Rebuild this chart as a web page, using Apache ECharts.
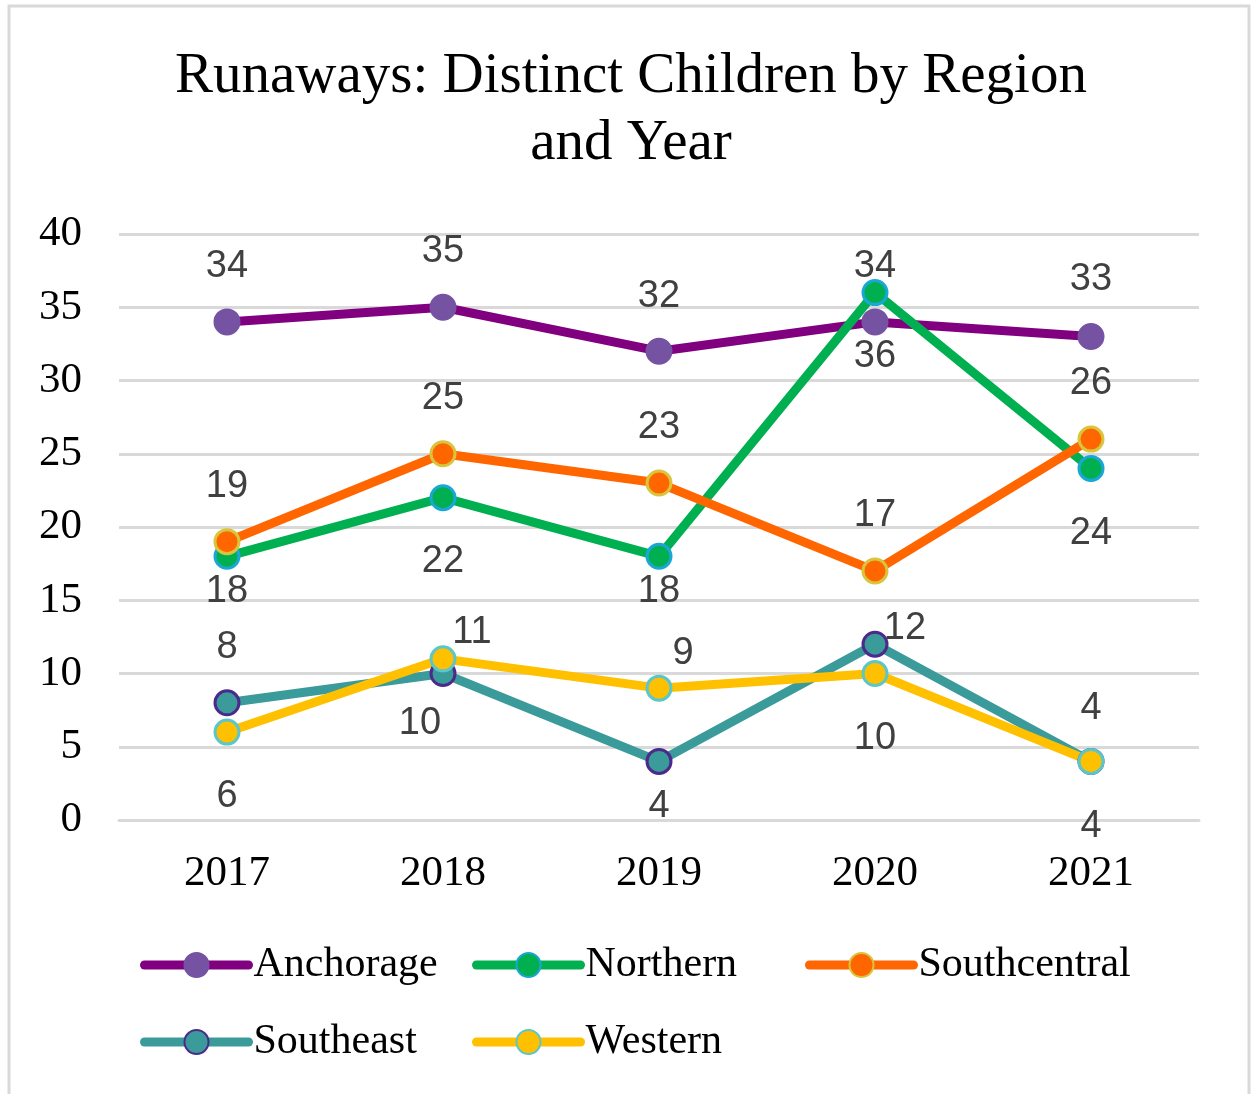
<!DOCTYPE html>
<html>
<head>
<meta charset="utf-8">
<script src="https://cdn.jsdelivr.net/npm/echarts@6/dist/echarts.min.js"></script>
<style>html,body{margin:0;padding:0;background:#fff;}#c{width:1251px;height:1094px;}</style>
</head>
<body>
<div id="c"></div>
<script>
var years = ['2017', '2018', '2019', '2020', '2021'];
var seriesNames = ['Anchorage', 'Northern', 'Southcentral', 'Southeast', 'Western'];
var anchorage = [34, 35, 32, 34, 33];
var northern = [18, 22, 18, 36, 24];
var southcentral = [19, 25, 23, 17, 26];
var southeast = [8, 10, 4, 12, 4];
var western = [6, 11, 9, 10, 4];
var yTicks = [0, 5, 10, 15, 20, 25, 30, 35, 40];
var titleText = 'Runaways: Distinct Children by Region\nand Year';

var values = [anchorage, northern, southcentral, southeast, western];
var lineColors = ['#800080', '#00B050', '#FF6600', '#3A9B9A', '#FFC000'];
var fillColors = ['#7652A2', '#00B050', '#FF6600', '#3A9B9A', '#FFC000'];
var borderColors = ['#7652A2', '#1AA7D6', '#D9C53B', '#4B2A8C', '#5CC6C8'];
// label offsets (dx, dy) relative to each point
var labelOffsets = [
  [[0,-55],[0,-56],[0,-55],[0,-55],[0,-57]],
  [[0,35],[0,64],[0,35],[0,64],[0,65]],
  [[0,-55],[0,-55],[0,-56],[0,-55],[0,-56]],
  [[0,-55],[-23,50],[0,45],[30,-16],[0,-53]],
  [[0,64],[29,-26],[24,-35],[0,65],[0,65]]
];
var legendPos = [[140,944],[472,944],[805,944],[140,1021],[472,1021]];

var series = seriesNames.map(function(name, i){
  return {
    name: name,
    type: 'line',
    data: values[i].map(function(v, j){
      return {value: v, label: {offset: labelOffsets[i][j]}};
    }),
    symbol: 'circle',
    symbolSize: 24,
    lineStyle: {color: lineColors[i], width: 9, cap: 'round', join: 'round'},
    itemStyle: {color: fillColors[i], borderColor: borderColors[i], borderWidth: 3},
    label: {
      show: true, position: 'inside',
      fontFamily: 'Liberation Sans', fontSize: 38, color: '#404040'
    },
    emphasis: {disabled: true},
    animation: false
  };
});

var legends = seriesNames.map(function(name, i){
  return {
    data: [name],
    left: legendPos[i][0], top: legendPos[i][1],
    itemWidth: 104, itemHeight: 30, itemGap: 0,
    padding: 0,
    lineStyle: {width: 9, cap: 'round'},
    textStyle: {fontFamily: 'Liberation Serif', fontSize: 42, color: '#000'},
    selectedMode: false
  };
});

var chart = echarts.init(document.getElementById('c'), null, {renderer: 'canvas'});
chart.setOption({
  backgroundColor: '#fff',
  animation: false,
  graphic: [{
    type: 'rect', shape: {x: 9, y: 6, width: 1240, height: 1100},
    style: {fill: 'none', stroke: '#D9D9D9', lineWidth: 3}, silent: true, z: -1
  }, {
    type: 'text', x: 631, y: 44, silent: true,
    style: {
      text: titleText, textAlign: 'center', textVerticalAlign: 'top',
      fontFamily: 'Liberation Serif', fontSize: 57, lineHeight: 67, fill: '#000'
    }
  }],
  legend: legends,
  grid: {left: 119, right: 52, top: 234, bottom: 274, containLabel: false},
  xAxis: {
    type: 'category', data: years, boundaryGap: true,
    axisLine: {lineStyle: {color: '#D9D9D9', width: 3}},
    axisTick: {show: false},
    axisLabel: {fontFamily: 'Liberation Serif', fontSize: 43, color: '#000', margin: 32}
  },
  yAxis: {
    type: 'value', min: yTicks[0], max: yTicks[yTicks.length - 1], interval: 5,
    axisLine: {show: false}, axisTick: {show: false},
    splitLine: {lineStyle: {color: '#D9D9D9', width: 3}},
    axisLabel: {fontFamily: 'Liberation Serif', fontSize: 43, color: '#000', margin: 37}
  },
  series: series
});
</script>
</body>
</html>
